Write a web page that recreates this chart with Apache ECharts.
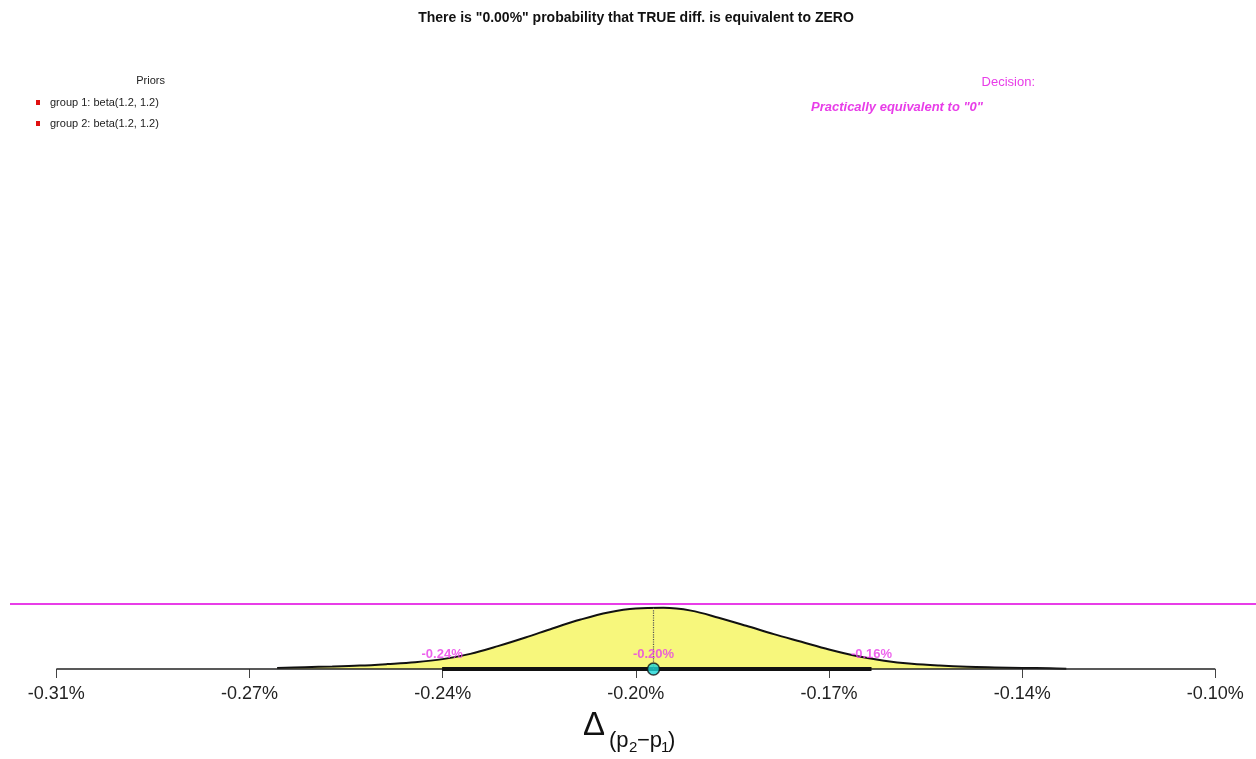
<!DOCTYPE html>
<html>
<head>
<meta charset="utf-8">
<script src="https://cdn.jsdelivr.net/npm/echarts@6/dist/echarts.min.js"></script>
<style>
  html, body { margin: 0; padding: 0; background: #fff; }
  #chart { width: 1256px; height: 759px; }
</style>
</head>
<body>
<div id="chart"></div>
<script>
// Posterior of the difference p2 - p1 (in percent points)
const deltaValues = [-0.270, -0.265, -0.260, -0.255, -0.250, -0.245, -0.240, -0.235, -0.230, -0.225,
                     -0.220, -0.215, -0.210, -0.205, -0.200, -0.195, -0.190, -0.185, -0.180, -0.175,
                     -0.170, -0.165, -0.160, -0.155, -0.150, -0.145, -0.140, -0.135, -0.130, -0.127];
const densityValues = [0.3, 0.6, 0.8, 1.1, 1.6, 2.2, 3.2, 4.9, 7.4, 10.2,
                       13.2, 16.0, 18.3, 19.6, 19.8, 18.9, 16.6, 14.0, 11.3, 8.8,
                       6.3, 4.2, 2.7, 1.7, 1.1, 0.7, 0.5, 0.35, 0.25, 0.1];

// Summary of the posterior
const hdiLow = -0.2401;
const hdiHigh = -0.1623;
const posteriorMean = -0.2018;
const peakDensity = 19.85;
const summaryLabels = ['-0.24%', '-0.20%', '-0.16%'];
const referenceLevel = 21;

// Axis ticks
const tickValues = [-0.31, -0.275, -0.24, -0.205, -0.17, -0.135, -0.10];
const tickLabels = ['-0.31%', '-0.27%', '-0.24%', '-0.20%', '-0.17%', '-0.14%', '-0.10%'];

// Texts
const titleText = 'There is "0.00%" probability that TRUE diff. is equivalent to ZERO';
const priorTitle = 'Priors';
const priorItems = ['group 1: beta(1.2, 1.2)', 'group 2: beta(1.2, 1.2)'];
const decisionTitle = 'Decision:';
const decisionText = 'Practically equivalent to "0"';

const FONT = "'Liberation Sans', Arial, sans-serif";
const MAGENTA = '#e83de8';

const curve = deltaValues.map((x, i) => [x, densityValues[i]]);

function tickLabelFor(v) {
  let best = 0;
  tickValues.forEach((t, i) => { if (Math.abs(t - v) < Math.abs(tickValues[best] - v)) best = i; });
  return tickLabels[best];
}

const chart = echarts.init(document.getElementById('chart'), null, { renderer: 'canvas' });

const priorGraphics = [];
priorItems.forEach((txt, i) => {
  const yc = 103 + i * 21;
  priorGraphics.push({
    type: 'rect', shape: { x: 36, y: yc - 3, width: 4, height: 5 },
    style: { fill: '#e01010' }
  });
  priorGraphics.push({
    type: 'text',
    style: { text: txt, x: 50, y: yc, font: '11px ' + FONT, fill: '#222', verticalAlign: 'middle', textAlign: 'left' }
  });
});

const option = {
  animation: false,
  backgroundColor: '#fff',
  grid: { left: 10, right: 0, top: 113, bottom: 90 },
  xAxis: {
    type: 'value',
    min: -0.3184,
    max: -0.09263,
    axisLine: { show: false },
    splitLine: { show: false },
    axisTick: { show: true, customValues: tickValues, length: 9, lineStyle: { color: '#444', width: 1 } },
    axisLabel: {
      customValues: tickValues,
      formatter: (v) => tickLabelFor(v),
      fontSize: 18,
      fontFamily: FONT,
      color: '#222',
      margin: 16
    }
  },
  yAxis: { type: 'value', min: 0, max: 180, show: false },
  series: [
    {
      type: 'line',
      data: curve,
      smooth: 0.35,
      symbol: 'none',
      clip: false,
      lineStyle: { color: '#111', width: 2 },
      areaStyle: { color: '#f7f77c', opacity: 1 },
      z: 2,
      markLine: {
        silent: true,
        symbol: 'none',
        label: { show: false },
        lineStyle: { color: MAGENTA, width: 2, type: 'solid' },
        data: [{ yAxis: referenceLevel }]
      }
    },
    {
      type: 'line',
      data: [[tickValues[0], 0], [tickValues[tickValues.length - 1], 0]],
      symbol: 'none',
      clip: false,
      lineStyle: { color: '#222', width: 1.5 },
      z: 3
    },
    {
      type: 'line',
      data: [[hdiLow, 0], [hdiHigh, 0]],
      symbol: 'none',
      clip: false,
      lineStyle: { color: '#111', width: 4 },
      z: 4
    },
    {
      type: 'line',
      data: [[posteriorMean, 0], [posteriorMean, peakDensity]],
      symbol: 'none',
      clip: false,
      lineStyle: { color: '#555', width: 1.2, type: 'dotted' },
      z: 4
    },
    {
      type: 'scatter',
      data: [
        { value: [hdiLow, 0], name: summaryLabels[0] },
        { value: [posteriorMean, 0], name: summaryLabels[1] },
        { value: [hdiHigh, 0], name: summaryLabels[2] }
      ],
      symbolSize: 0,
      clip: false,
      label: {
        show: true,
        position: 'inside',
        offset: [0, -15],
        formatter: (p) => p.name,
        color: MAGENTA,
        fontWeight: 'bold',
        fontSize: 13,
        fontFamily: FONT
      },
      z: 5
    },
    {
      type: 'scatter',
      data: [[posteriorMean, 0]],
      symbolSize: 12,
      clip: false,
      itemStyle: { color: '#1dd6d6', borderColor: '#111', borderWidth: 1.5 },
      z: 6
    }
  ],
  graphic: [
    {
      type: 'text',
      style: { text: titleText, x: 636, y: 18, font: 'bold 14px ' + FONT, fill: '#111', textAlign: 'center', verticalAlign: 'middle' }
    },
    {
      type: 'text',
      style: { text: priorTitle, x: 165, y: 81, font: '11px ' + FONT, fill: '#222', textAlign: 'right', verticalAlign: 'middle' }
    },
    ...priorGraphics,
    {
      type: 'text',
      style: { text: decisionTitle, x: 1035, y: 82, font: '13px ' + FONT, fill: MAGENTA, textAlign: 'right', verticalAlign: 'middle' }
    },
    {
      type: 'text',
      style: { text: decisionText, x: 983, y: 107, font: 'italic bold 13px ' + FONT, fill: MAGENTA, textAlign: 'right', verticalAlign: 'middle' }
    },
    // axis title: Δ (p2 − p1)
    { type: 'text', style: { text: 'Δ', x: 583, y: 726, font: '33px ' + FONT, fill: '#111', textAlign: 'left', verticalAlign: 'middle' } },
    { type: 'text', style: { text: '(p', x: 609, y: 741, font: '22px ' + FONT, fill: '#111', textAlign: 'left', verticalAlign: 'middle' } },
    { type: 'text', style: { text: '2', x: 629, y: 748, font: '15px ' + FONT, fill: '#111', textAlign: 'left', verticalAlign: 'middle' } },
    { type: 'text', style: { text: '−p', x: 637, y: 741, font: '22px ' + FONT, fill: '#111', textAlign: 'left', verticalAlign: 'middle' } },
    { type: 'text', style: { text: '1', x: 661, y: 748, font: '15px ' + FONT, fill: '#111', textAlign: 'left', verticalAlign: 'middle' } },
    { type: 'text', style: { text: ')', x: 668, y: 741, font: '22px ' + FONT, fill: '#111', textAlign: 'left', verticalAlign: 'middle' } }
  ]
};

chart.setOption(option);
</script>
</body>
</html>
